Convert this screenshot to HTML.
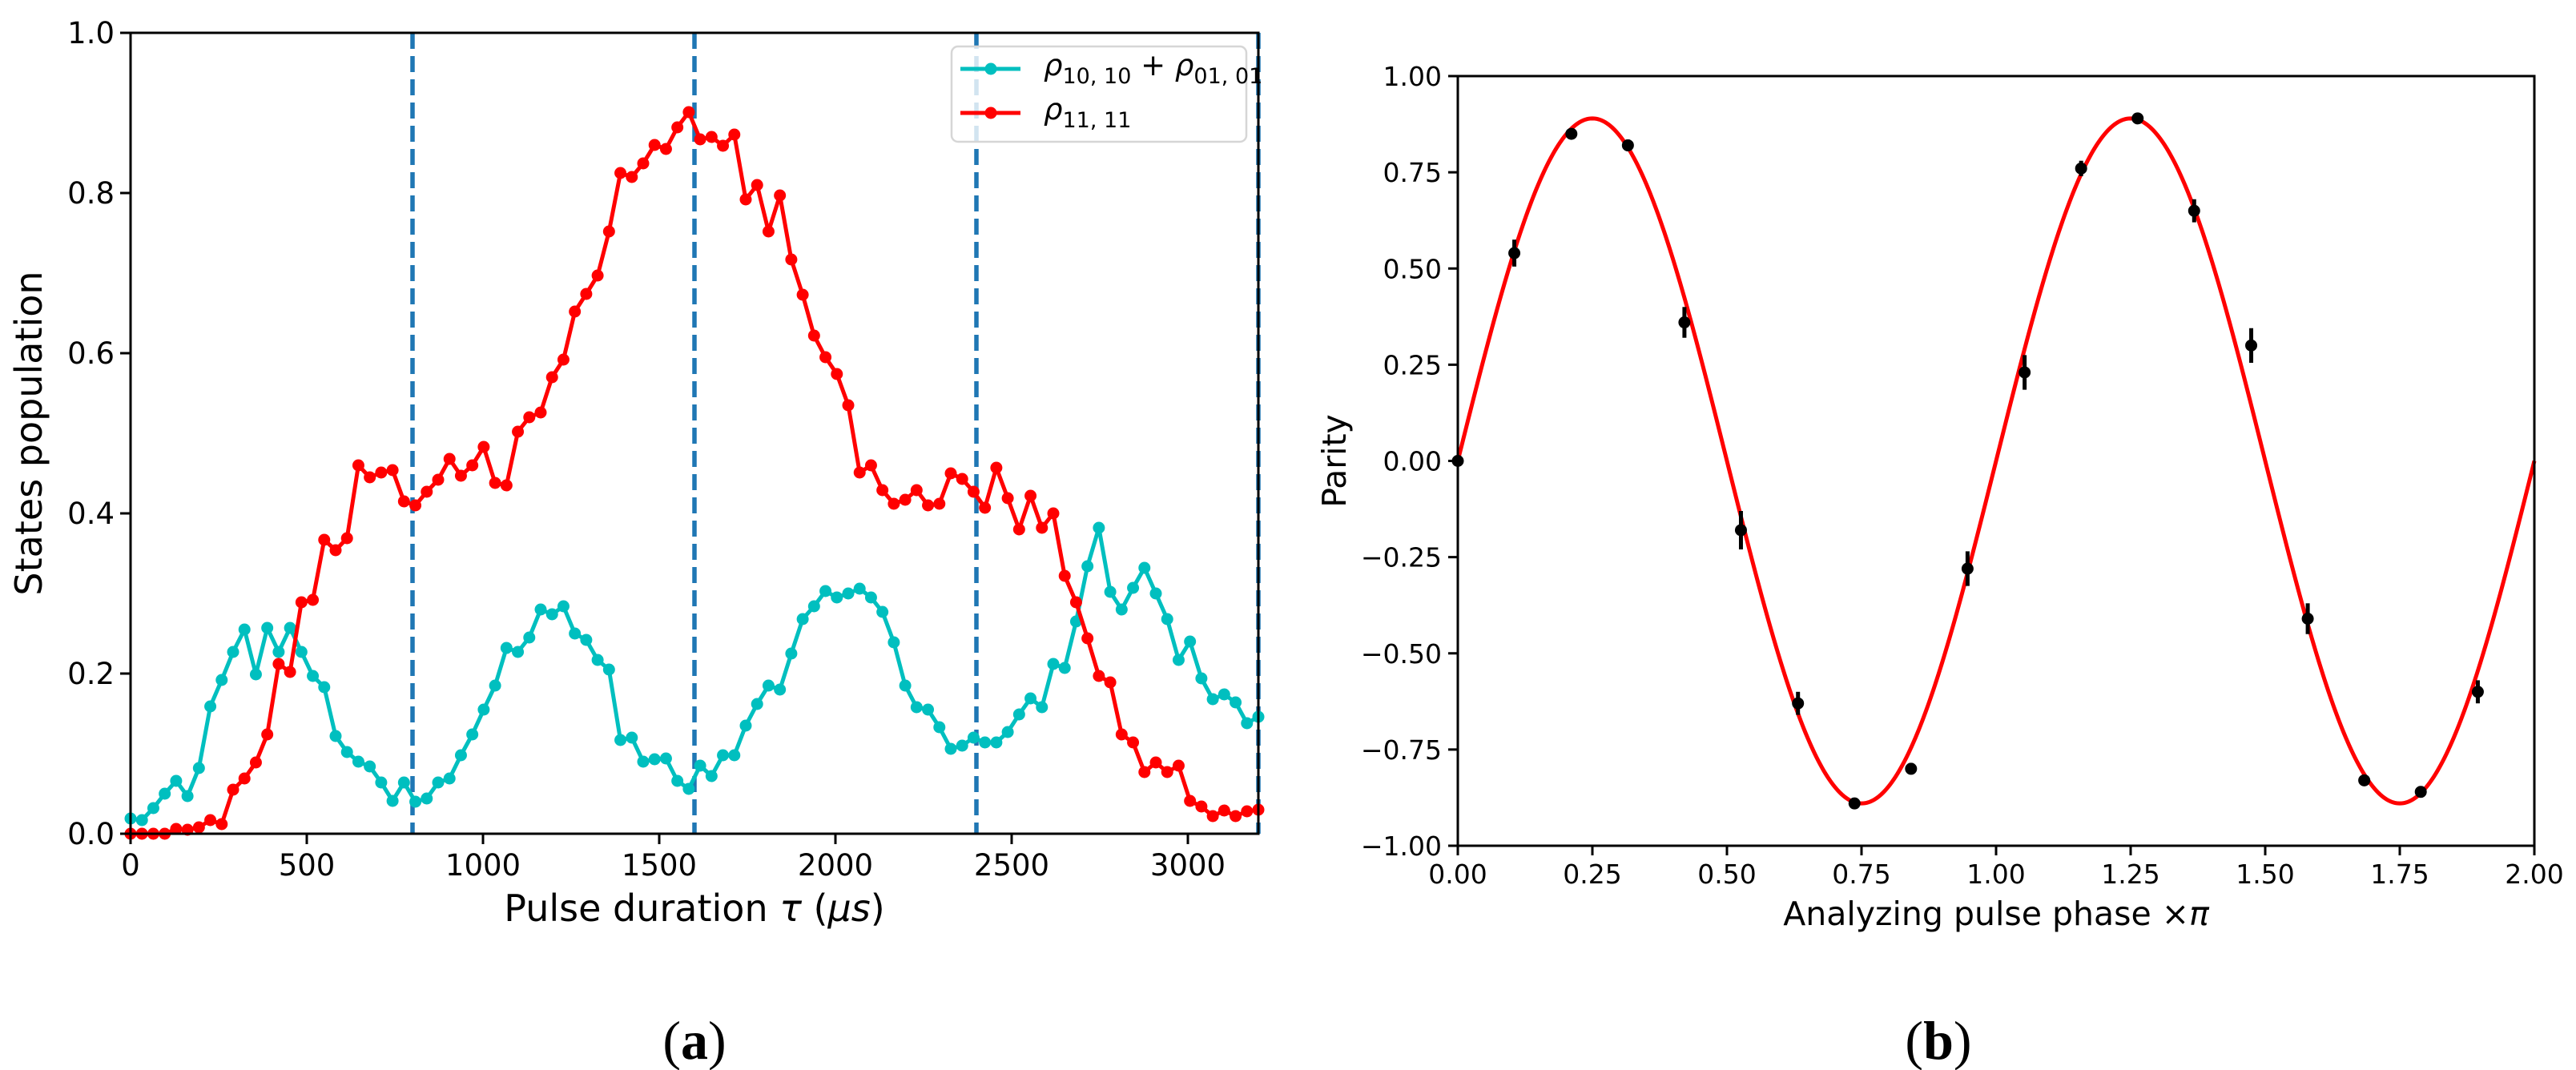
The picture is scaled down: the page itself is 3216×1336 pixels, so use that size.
<!DOCTYPE html>
<html><head><meta charset="utf-8"><style>
html,body{margin:0;padding:0;background:#fff;}
svg{display:block;font-family:"DejaVu Sans","Liberation Sans",sans-serif;}
</style></head><body>
<svg id="fig" width="3216" height="1336" viewBox="0 0 3216 1336" xmlns="http://www.w3.org/2000/svg"></svg>
<script>
// ---------- Panel (a) data ----------
const popTauMax = [3200];
const pointCount = [100];
const cyanValues = [0.019,0.017,0.032,0.05,0.066,0.047,0.082,0.159,0.192,0.227,0.255,0.199,0.257,0.227,0.257,0.227,0.197,0.183,0.122,0.102,
0.09,0.084,0.064,0.041,0.064,0.04,0.044,0.064,0.069,0.098,0.124,0.155,0.185,0.232,0.227,0.245,0.28,0.274,0.284,0.25,
0.242,0.217,0.205,0.117,0.12,0.09,0.093,0.094,0.066,0.056,0.085,0.072,0.098,0.098,0.135,0.162,0.185,0.18,0.225,0.268,
0.284,0.303,0.295,0.30,0.306,0.295,0.277,0.239,0.185,0.158,0.155,0.133,0.106,0.11,0.12,0.114,0.114,0.127,0.149,0.169,
0.158,0.212,0.207,0.265,0.334,0.382,0.302,0.28,0.307,0.332,0.30,0.268,0.217,0.24,0.194,0.168,0.174,0.164,0.138,0.146];
const redValues = [0.0,0.0,0.0,0.0,0.006,0.005,0.008,0.017,0.012,0.055,0.069,0.089,0.124,0.212,0.202,0.289,0.292,0.367,0.354,0.369,
0.46,0.445,0.451,0.454,0.415,0.41,0.427,0.442,0.468,0.447,0.46,0.483,0.438,0.435,0.502,0.52,0.526,0.570,0.592,0.652,
0.674,0.697,0.752,0.825,0.820,0.837,0.86,0.855,0.882,0.901,0.867,0.87,0.859,0.873,0.792,0.81,0.752,0.797,0.717,0.673,
0.622,0.595,0.574,0.535,0.451,0.46,0.429,0.412,0.417,0.429,0.41,0.412,0.45,0.443,0.427,0.407,0.457,0.419,0.38,0.422,
0.382,0.40,0.322,0.289,0.244,0.197,0.189,0.124,0.114,0.077,0.089,0.077,0.085,0.041,0.034,0.022,0.029,0.022,0.028,0.030];
const vlineTaus = [800,1600,2400,3200];
const xTicksA = [0,500,1000,1500,2000,2500,3000];
const yTicksA = [0.0,0.2,0.4,0.6,0.8,1.0];

// ---------- Panel (b) data ----------
const phaseValues = [0,0.105,0.211,0.316,0.421,0.526,0.632,0.737,0.842,0.947,1.053,1.158,1.263,1.368,1.474,1.579,1.684,1.789,1.895];
const parityValues = [0.0,0.54,0.85,0.82,0.36,-0.18,-0.63,-0.89,-0.80,-0.28,0.23,0.76,0.89,0.65,0.30,-0.41,-0.83,-0.86,-0.60];
const parityErrors = [0.01,0.035,0.01,0.015,0.04,0.05,0.03,0.01,0.015,0.045,0.045,0.02,0.01,0.03,0.045,0.04,0.015,0.015,0.03];
const fitAmplitude = [0.89];
const fitPeriod = [1.0];
const xTicksB = [0,0.25,0.5,0.75,1.0,1.25,1.5,1.75,2.0];
const yTicksB = [-1.0,-0.75,-0.5,-0.25,0,0.25,0.5,0.75,1.0];

const NS="http://www.w3.org/2000/svg";
const svg=document.getElementById('fig');
function mk(tag,attrs,parent){const e=document.createElementNS(NS,tag);for(const k in attrs)e.setAttribute(k,attrs[k]);(parent||svg).appendChild(e);return e;}

// ===== Panel A =====
const A={x0:163,x1:1571,y0:1041,y1:41};
const ax=v=>A.x0+(v/3200)*(A.x1-A.x0);
const ay=v=>A.y0-(v/1.0)*(A.y0-A.y1);
const gA=mk('g',{});



vlineTaus.forEach(t=>{
  const l=mk('line',{x1:ax(t),x2:ax(t),y1:A.y1,y2:A.y0,stroke:'#1f77b4','stroke-width':5.5,'stroke-dasharray':'20,9'},gA);
  
  
});
function series(vals,color,name){
  const g=mk('g',{},gA);
  
  
  const pts=vals.map((v,i)=>[ax(i*popTauMax[0]/(pointCount[0]-1)),ay(v)]);
  const p=mk('polyline',{points:pts.map(p=>p.join(',')).join(' '),fill:'none',stroke:color,'stroke-width':5,'stroke-linejoin':'round'},g);
  
  
  pts.forEach(q=>{
    const c=mk('circle',{cx:q[0],cy:q[1],r:7.5,fill:color},g);
    
    
  });
}
series(cyanValues,'#00bfbf','series-rho10-plus-rho01');
series(redValues,'#ff0000','series-rho11');
const fA=mk('rect',{x:A.x0,y:A.y1,width:A.x1-A.x0,height:A.y0-A.y1,fill:'none',stroke:'#000','stroke-width':3},gA);


xTicksA.forEach(t=>{
  const x=ax(t);
  mk('line',{x1:x,x2:x,y1:A.y0,y2:A.y0+13,stroke:'#000','stroke-width':3},gA);
  const tx=mk('text',{x:x,y:A.y0+52,'font-size':37,'text-anchor':'middle',fill:'#000'},gA);
  tx.textContent=String(t);
  
  
});
yTicksA.forEach(t=>{
  const y=ay(t);
  mk('line',{x1:A.x0-13,x2:A.x0,y1:y,y2:y,stroke:'#000','stroke-width':3},gA);
  const tx=mk('text',{x:A.x0-20,y:y+13,'font-size':37,'text-anchor':'end',fill:'#000'},gA);
  tx.textContent=t.toFixed(1);
  
  
});
const xlA=mk('text',{x:(A.x0+A.x1)/2,y:1150,'font-size':46,'text-anchor':'middle',fill:'#000'},gA);
xlA.innerHTML='Pulse duration <tspan font-style="italic">τ</tspan> (<tspan font-style="italic">μs</tspan>)';


const ylA=mk('text',{x:0,y:0,'font-size':46,'text-anchor':'middle',fill:'#000',transform:`translate(52,${(A.y0+A.y1)/2}) rotate(-90)`},gA);
ylA.textContent='States population';


// legend
const lg=mk('g',{},gA);


mk('rect',{x:1188,y:58,width:368,height:119,rx:8,fill:'rgba(255,255,255,0.8)',stroke:'#d6d6d6','stroke-width':2.5},lg);
[[86,'#00bfbf','<tspan font-style="italic">ρ</tspan><tspan font-size="27" dy="10">10, 10</tspan><tspan dy="-10"> + </tspan><tspan font-style="italic">ρ</tspan><tspan font-size="27" dy="10">01, 01</tspan>','legend-entry-rho10-rho01'],
 [141,'#ff0000','<tspan font-style="italic">ρ</tspan><tspan font-size="27" dy="10">11, 11</tspan>','legend-entry-rho11']].forEach(e=>{
  const g=mk('g',{},lg);
  
  
  mk('line',{x1:1199,x2:1274,y1:e[0],y2:e[0],stroke:e[1],'stroke-width':5},g);
  mk('circle',{cx:1237,cy:e[0],r:7.5,fill:e[1]},g);
  const t=mk('text',{x:1303,y:e[0]+8,'font-size':37,fill:'#000'},g);
  t.innerHTML=e[2];
});
const la=mk('text',{x:(A.x0+A.x1)/2,y:1322,'font-size':68,'text-anchor':'middle','font-family':'"Liberation Serif",serif',fill:'#000'},gA);
la.innerHTML='(<tspan font-weight="bold">a</tspan>)';



// ===== Panel B =====
const B={x0:1820,x1:3164,y0:1056,y1:95};
const bx=v=>B.x0+(v/2)*(B.x1-B.x0);
const by=v=>B.y0-((v+1)/2)*(B.y0-B.y1);
const gB=mk('g',{});


let d='';
for(let k=0;k<=600;k++){const x=2*k/600;const y=fitAmplitude[0]*Math.sin(2*Math.PI*x/fitPeriod[0]);d+=(k?'L':'M')+bx(x).toFixed(2)+','+by(y).toFixed(2);}
const fit=mk('path',{d:d,fill:'none',stroke:'#ff0000','stroke-width':5},gB);


phaseValues.forEach((p,i)=>{
  const g=mk('g',{},gB);
  
  
  const x=bx(p),v=parityValues[i],e=parityErrors[i];
  mk('line',{x1:x,x2:x,y1:by(v-e),y2:by(v+e),stroke:'#000','stroke-width':5},g);
  mk('circle',{cx:x,cy:by(v),r:7.5,fill:'#000'},g);
});
const fB=mk('rect',{x:B.x0,y:B.y1,width:B.x1-B.x0,height:B.y0-B.y1,fill:'none',stroke:'#000','stroke-width':3},gB);


xTicksB.forEach(t=>{
  const x=bx(t);
  mk('line',{x1:x,x2:x,y1:B.y0,y2:B.y0+12,stroke:'#000','stroke-width':3},gB);
  const tx=mk('text',{x:x,y:B.y0+47,'font-size':33,'text-anchor':'middle',fill:'#000'},gB);
  tx.textContent=t.toFixed(2);
  
  
});
yTicksB.forEach(t=>{
  const y=by(t);
  mk('line',{x1:B.x0-12,x2:B.x0,y1:y,y2:y,stroke:'#000','stroke-width':3},gB);
  const tx=mk('text',{x:B.x0-20,y:y+12,'font-size':33,'text-anchor':'end',fill:'#000'},gB);
  tx.textContent=(t<0?'\u2212':'')+Math.abs(t).toFixed(2);
  
  
});
const xlB=mk('text',{x:(B.x0+B.x1)/2,y:1155,'font-size':41,'text-anchor':'middle',fill:'#000'},gB);
xlB.innerHTML='Analyzing pulse phase ×<tspan font-style="italic">π</tspan>';


const ylB=mk('text',{x:0,y:0,'font-size':41,'text-anchor':'middle',fill:'#000',transform:`translate(1680,${(B.y0+B.y1)/2}) rotate(-90)`},gB);
ylB.textContent='Parity';


const lb=mk('text',{x:2420,y:1322,'font-size':68,'text-anchor':'middle','font-family':'"Liberation Serif",serif',fill:'#000'},gB);
lb.innerHTML='(<tspan font-weight="bold">b</tspan>)';


</script>
</body></html>
